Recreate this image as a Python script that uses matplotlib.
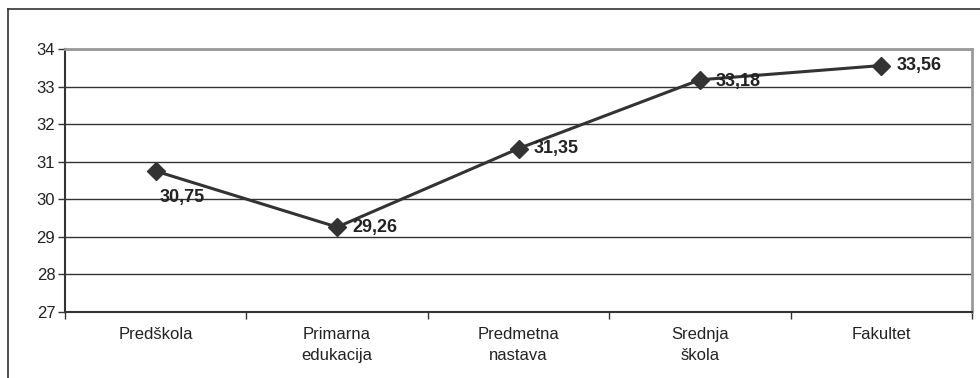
import matplotlib.pyplot as plt
from matplotlib.lines import Line2D
from matplotlib.ticker import FixedLocator

plt.rcParams['font.family'] = ['Liberation Sans', 'DejaVu Sans']

# data
categories = ['Predškola', 'Primarna\nedukacija', 'Predmetna\nnastava', 'Srednja\nškola', 'Fakultet']
values = [30.75, 29.26, 31.35, 33.18, 33.56]
value_labels = ['30,75', '29,26', '31,35', '33,18', '33,56']
# label offsets in points (relative to each marker)
label_offsets = [(3, -19), (11, 0), (11, 0), (11, -1), (11, 0)]

dark = '#333333'

fig = plt.figure(figsize=(9.8, 3.78), dpi=100)
ax = fig.add_axes([65 / 980, 1 - 312 / 378, 907 / 980, 263 / 378])

x = list(range(len(categories)))
ax.plot(x, values, color=dark, lw=2.2, marker='D', markersize=9,
        markerfacecolor=dark, markeredgecolor=dark, zorder=3)

for xi, v, lab, off in zip(x, values, value_labels, label_offsets):
    ax.annotate(lab, (xi, v), xytext=off, textcoords='offset points',
                ha='left', va='center', fontsize=13, fontweight='bold',
                color='#222222', zorder=4)

ax.set_xlim(-0.5, len(categories) - 0.5)
ax.set_ylim(27, 34)
ax.set_yticks(range(27, 35))
ax.set_xticks(x)
ax.set_xticklabels(categories, fontsize=12, color='#222222', linespacing=1.45)
ax.xaxis.set_minor_locator(FixedLocator([i - 0.5 for i in range(len(categories) + 1)]))
ax.tick_params(axis='x', which='major', length=0, pad=11)
ax.tick_params(axis='x', which='minor', length=5, width=1, color=dark, direction='out')
ax.tick_params(axis='y', length=5, width=1, color=dark, labelsize=12, labelcolor='#222222', pad=2)

ax.grid(axis='y', color=dark, lw=1)
ax.set_axisbelow(True)

for side in ['left', 'bottom']:
    ax.spines[side].set_color(dark)
    ax.spines[side].set_linewidth(1.5)
for side in ['top', 'right']:
    ax.spines[side].set_color('#999999')
    ax.spines[side].set_linewidth(2)

# outer chart frame, cut off at the right and bottom
fig.add_artist(Line2D([8 / 980, 8 / 980], [0, 1 - 9 / 378], transform=fig.transFigure, color=dark, lw=1.2))
fig.add_artist(Line2D([8 / 980, 1], [1 - 9 / 378, 1 - 9 / 378], transform=fig.transFigure, color=dark, lw=1.2))

fig.savefig('out.png', dpi=100)
